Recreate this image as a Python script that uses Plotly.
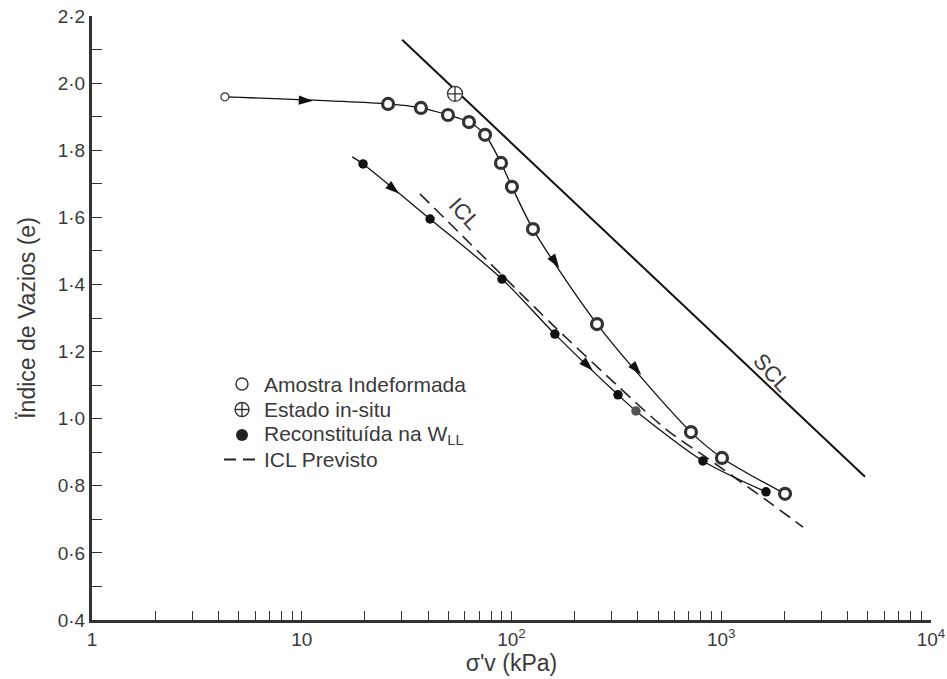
import plotly.graph_objects as go
import numpy as np

# ---- data -------------------------------------------------------------
# Amostra indeformada: tensão vertical efectiva (kPa) e índice de vazios
und_s = [4.3, 25.8, 37.0, 49.8, 62.7, 74.8, 89.1, 100.5, 126.6, 255.7, 717, 1008, 2014]
und_e = [1.959, 1.938, 1.926, 1.905, 1.884, 1.846, 1.762, 1.691, 1.565, 1.282, 0.960, 0.883, 0.776]

# Estado in-situ
insitu_s = [53.8]
insitu_e = [1.968]

# Reconstituída no limite de liquidez
rec_s = [19.6, 40.9, 90.1, 161, 322, 392, 818, 1634]
rec_e = [1.759, 1.595, 1.416, 1.252, 1.071, 1.023, 0.874, 0.782]
rec_tail_s = [17.4]          # start of the drawn curve, before the first point
rec_tail_e = [1.780]

# ICL previsto (linha tracejada)
icl_s = [36.6, 90.1, 161.2, 321.9, 551, 855, 1635, 2453]
icl_e = [1.670, 1.428, 1.273, 1.097, 0.966, 0.883, 0.758, 0.677]

# SCL (recta)
scl_s = [30.1, 4845]
scl_e = [2.129, 0.827]

# arrow heads: (series, segment index, fraction along segment)
arrows = [("und", 0, 0.54), ("und", 8, 0.41), ("und", 9, 0.47),
          ("rec", 0, 0.54), ("rec", 3, 0.60)]

# axis ticks
x_major_text = ["1", "10", "10<sup>2</sup>", "10<sup>3</sup>", "10<sup>4</sup>"]
y_labels = [0.4, 0.6, 0.8, 1.0, 1.2, 1.4, 1.6, 1.8, 2.0, 2.2]

# ---- figure -----------------------------------------------------------
FONT = "Liberation Sans, Arial, Helvetica, sans-serif"
TXT = "#3a3a3a"
W, H = 947, 679
ML, MR, MT, MB = 92, 16, 16, 59

fig = go.Figure()

# SCL
fig.add_trace(go.Scatter(x=scl_s, y=scl_e, mode="lines",
                         line=dict(color="#111", width=2), hoverinfo="skip"))
# ICL previsto
fig.add_trace(go.Scatter(x=icl_s, y=icl_e, mode="lines",
                         line=dict(color="#222", width=1.6, dash="13px,7px",
                                   shape="spline", smoothing=0.8), hoverinfo="skip"))
# undisturbed curve
fig.add_trace(go.Scatter(x=und_s, y=und_e, mode="lines",
                         line=dict(color="#111", width=1.3, shape="spline", smoothing=0.8),
                         hoverinfo="skip"))
# reconstituted curve
fig.add_trace(go.Scatter(x=rec_tail_s + rec_s, y=rec_tail_e + rec_e, mode="lines",
                         line=dict(color="#111", width=1.3, shape="spline", smoothing=0.8),
                         hoverinfo="skip"))

# arrow heads along the curves (pairs: hidden lead point + arrow)
series = {"und": (und_s, und_e), "rec": (rec_s, rec_e)}
ax, ay, aop = [], [], []
for name, i, t in arrows:
    s, e = series[name]
    lx0, lx1 = np.log10(s[i]), np.log10(s[i + 1])
    for tt, op in ((t - 0.08, 0), (t, 1)):
        ax.append(10 ** (lx0 + tt * (lx1 - lx0)))
        ay.append(e[i] + tt * (e[i + 1] - e[i]))
        aop.append(op)
fig.add_trace(go.Scatter(x=ax, y=ay, mode="markers",
                         marker=dict(symbol="arrow", size=15, color="#111",
                                     angleref="previous", opacity=aop,
                                     line=dict(width=0)),
                         hoverinfo="skip"))

# undisturbed points: first small, the rest bold rings
fig.add_trace(go.Scatter(x=und_s[:1], y=und_e[:1], mode="markers",
                         marker=dict(symbol="circle", size=8, color="white",
                                     line=dict(color="#333", width=1.2))))
fig.add_trace(go.Scatter(x=und_s[1:], y=und_e[1:], mode="markers",
                         marker=dict(symbol="circle", size=11, color="white",
                                     line=dict(color="#333", width=3.2))))
# in-situ state
fig.add_trace(go.Scatter(x=insitu_s, y=insitu_e, mode="markers",
                         marker=dict(symbol="circle-cross", size=15, color="white",
                                     line=dict(color="#333", width=1.3))))
# reconstituted points
rec_col = ["#111"] * len(rec_s)
rec_col[5] = "#555"
fig.add_trace(go.Scatter(x=rec_s, y=rec_e, mode="markers",
                         marker=dict(symbol="circle", size=9.5, color=rec_col,
                                     line=dict(width=0))))

# ---- axes -------------------------------------------------------------
x_ticks, x_text = [], []
for d in range(4):
    for m in range(1, 10):
        x_ticks.append(m * 10 ** d)
        x_text.append(x_major_text[d] if m == 1 else "")
x_ticks.append(10000)
x_text.append(x_major_text[4])

y_ticks = [round(0.4 + 0.1 * k, 1) for k in range(19)]
y_text = [f"{v:.1f}".replace(".", "·") if any(abs(v - l) < 1e-9 for l in y_labels) else ""
          for v in y_ticks]

fig.update_xaxes(type="log", range=[0, 4], showline=True, linewidth=3, linecolor="#333",
                 ticks="inside", ticklen=9, tickwidth=1.3, tickcolor="#333",
                 tickvals=x_ticks, ticktext=x_text, showgrid=False, zeroline=False,
                 automargin=False,
                 tickfont=dict(family=FONT, size=19, color=TXT),
                 title=dict(text="σ'v (kPa)", font=dict(family=FONT, size=23, color=TXT),
                            standoff=4))
fig.update_yaxes(range=[0.4, 2.2], showline=True, linewidth=3, linecolor="#333",
                 ticks="inside", ticklen=10, tickwidth=1.3, tickcolor="#333",
                 tickvals=y_ticks, ticktext=y_text, showgrid=False, zeroline=False,
                 automargin=False,
                 tickfont=dict(family=FONT, size=19, color=TXT),
                 title=dict(text="Ïndice de Vazios (e)",
                            font=dict(family=FONT, size=23, color=TXT), standoff=16))

# ---- line labels --------------------------------------------------------
fig.add_annotation(x=np.log10(59.5), y=1.61, text="ICL", showarrow=False, textangle=48,
                   font=dict(family=FONT, size=22, color=TXT))
fig.add_annotation(x=np.log10(1746), y=1.139, text="SCL", showarrow=False, textangle=48,
                   font=dict(family=FONT, size=22, color=TXT))

# ---- legend (drawn in paper coordinates) --------------------------------
def px(xp):
    return (xp - ML) / (W - ML - MR)

def py(yp):
    return 1 - (yp - MT) / (H - MT - MB)

sym_x = px(242)
txt_x = px(262)
rows = [384, 409.5, 435, 459.5]
labels = ["Amostra Indeformada", "Estado in-situ",
          "Reconstituída na W<sub>LL</sub>", "ICL Previsto"]
for r, lab in zip(rows, labels):
    fig.add_annotation(xref="paper", yref="paper", x=txt_x, y=py(r), text=lab,
                       showarrow=False, xanchor="left", yanchor="middle",
                       font=dict(family=FONT, size=21, color=TXT))

def circ(row, rad, fill, lw):
    fig.add_shape(type="circle", xref="paper", yref="paper",
                  xsizemode="pixel", ysizemode="pixel",
                  xanchor=sym_x, yanchor=py(row), x0=-rad, x1=rad, y0=-rad, y1=rad,
                  fillcolor=fill, line=dict(color="#333", width=lw))

circ(rows[0], 6, "white", 1.4)
circ(rows[1], 7, "white", 1.4)
for dx0, dx1, dy0, dy1 in ((-7, 7, 0, 0), (0, 0, -7, 7)):
    fig.add_shape(type="line", xref="paper", yref="paper",
                  xsizemode="pixel", ysizemode="pixel",
                  xanchor=sym_x, yanchor=py(rows[1]), x0=dx0, x1=dx1, y0=dy0, y1=dy1,
                  line=dict(color="#333", width=1.4))
circ(rows[2], 6, "#222", 0)
fig.add_shape(type="line", xref="paper", yref="paper", x0=px(224), x1=px(256),
              y0=py(rows[3]), y1=py(rows[3]),
              line=dict(color="#222", width=2.2, dash="12px,7px"))

fig.update_layout(width=W, height=H, margin=dict(l=ML, r=MR, t=MT, b=MB),
                  paper_bgcolor="white", plot_bgcolor="white", showlegend=False)

fig.write_html("out.html")
